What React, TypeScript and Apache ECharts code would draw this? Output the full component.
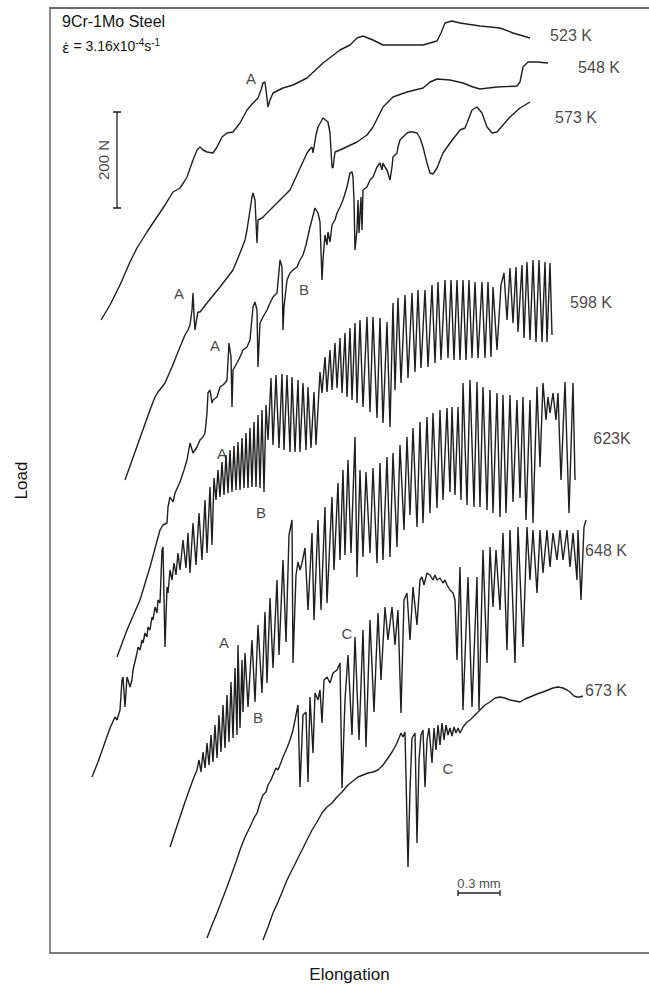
import React, { useEffect, useRef } from "react";
import * as echarts from "echarts";

type Pt = [number, number];

// Load–elongation traces, elongation and load in plot units
// (0.3 mm = 42 units of elongation, 200 N = 96 units of load).
const curve523: Pt[] = [
  [101, 680], [110, 695], [120, 715], [130, 738], [137, 752], [147, 768], [157, 783], [165, 795],
  [173, 808], [180, 812], [184, 818], [187, 823], [193, 840], [197, 850], [200, 853], [203, 850],
  [207, 848], [213, 847], [217, 853], [222, 863], [227, 867], [233, 868], [240, 877], [247, 890],
  [253, 897], [258, 902], [261, 910], [263, 917], [265, 918], [266, 910], [268, 893], [270, 900],
  [273, 907], [283, 912], [293, 915], [307, 922], [323, 937], [340, 950], [350, 955], [357, 962],
  [363, 964], [373, 960], [383, 955], [400, 955], [423, 955], [430, 957], [437, 959], [441, 967],
  [445, 977], [452, 979], [460, 977], [480, 974], [500, 972], [513, 967], [530, 962],
];

const curve548: Pt[] = [
  [125, 520], [135, 548], [145, 576], [150, 590], [155, 603], [158, 608], [162, 613], [165, 617],
  [172, 633], [180, 653], [185, 665], [188, 670], [190, 675], [192, 690], [193, 707], [194, 685],
  [195, 670], [197, 683], [198, 688], [200, 688], [207, 697], [220, 713], [233, 730], [240, 747],
  [245, 760], [247, 770], [252, 803], [253, 807], [255, 800], [257, 757], [258, 780], [262, 782],
  [273, 793], [290, 810], [307, 847], [310, 851], [312, 853], [313, 847], [316, 865], [318, 873],
  [323, 882], [328, 878], [330, 867], [332, 833], [333, 832], [335, 848], [340, 850], [357, 858],
  [367, 865], [373, 873], [383, 893], [393, 903], [407, 908], [423, 912], [430, 918], [437, 921],
  [450, 920], [463, 917], [473, 913], [480, 911], [497, 913], [517, 914], [520, 918], [523, 933],
  [528, 938], [537, 938], [548, 937],
];

const curve573: Pt[] = [
  [117, 343], [127, 370], [140, 400], [150, 433], [160, 470], [163, 475], [167, 477], [168, 493],
  [170, 503], [173, 498], [175, 507], [180, 518], [184, 530], [187, 540], [190, 557], [193, 547],
  [197, 553], [200, 560], [203, 563], [205, 567], [207, 587], [208, 607], [210, 610], [212, 597],
  [213, 600], [217, 603], [220, 613], [223, 615], [225, 617], [227, 620], [229, 657], [231, 643],
  [232, 593], [233, 630], [237, 637], [240, 643], [243, 650], [247, 653], [250, 660], [253, 693],
  [255, 698], [257, 690], [258, 633], [260, 677], [263, 683], [267, 690], [270, 697], [273, 703],
  [277, 707], [280, 740], [282, 733], [283, 670], [284, 693], [287, 720], [290, 727], [293, 730],
  [297, 733], [300, 740], [303, 745], [306, 755], [310, 773], [315, 792], [318, 787], [320, 778],
  [322, 720], [323, 740], [325, 765], [327, 755], [328, 768], [330, 758], [332, 775], [335, 780],
  [337, 787], [340, 793], [343, 800], [347, 813], [350, 827], [352, 828], [353, 823], [354, 800],
  [355, 750], [357, 770], [358, 800], [359, 767], [361, 803], [362, 770], [363, 810], [367, 813],
  [370, 820], [373, 823], [377, 833], [380, 837], [382, 830], [383, 837], [385, 833], [387, 830],
  [390, 820], [392, 833], [393, 843], [397, 847], [398, 853], [400, 860], [403, 863], [407, 867],
  [410, 868], [413, 868], [417, 867], [420, 862], [423, 853], [427, 837], [430, 827], [433, 826],
  [437, 832], [443, 847], [450, 857], [460, 870], [465, 872], [467, 877], [472, 890], [477, 893],
  [482, 887], [487, 873], [492, 867], [497, 868], [510, 883], [520, 892], [530, 898],
];

const curve598: Pt[] = [
  [92, 223], [98, 238], [104, 255], [110, 272], [115, 283], [117, 280], [120, 290], [122, 320],
  [123, 323], [125, 293], [127, 323], [128, 320], [130, 313], [132, 320], [133, 330], [137, 347],
  [138, 353], [140, 350], [142, 360], [143, 357], [145, 367], [147, 363], [148, 373], [150, 370],
  [152, 383], [153, 380], [155, 393], [157, 387], [158, 400], [160, 397], [162, 450], [163, 453],
  [165, 353], [167, 413], [168, 407], [170, 430], [172, 420], [174, 437], [176, 425], [178, 447],
  [180, 430], [183, 460], [186, 432], [188, 467], [190, 427], [193, 477], [196, 435], [199, 487],
  [202, 440], [205, 500], [207, 447], [210, 513], [212, 455], [214, 522], [216, 500], [218, 530],
  [220, 503], [222, 538], [224, 505], [226, 545], [228, 507], [230, 550], [232, 508], [234, 554],
  [236, 510], [238, 558], [240, 510], [242, 562], [244, 512], [246, 567], [248, 512], [250, 572],
  [252, 513], [254, 578], [256, 513], [258, 585], [260, 512], [262, 590], [264, 508], [266, 595],
  [268, 560], [271, 622], [273, 555], [276, 625], [279, 552], [282, 626], [284, 550], [287, 625],
  [290, 548], [292, 623], [295, 548], [298, 620], [300, 548], [303, 617], [306, 550], [308, 613],
  [311, 552], [314, 608], [316, 555], [320, 628], [322, 607], [325, 643], [327, 608], [330, 650],
  [332, 610], [335, 657], [337, 612], [340, 662], [342, 607], [345, 667], [347, 603], [350, 672],
  [352, 600], [355, 677], [357, 597], [360, 680], [363, 593], [367, 683], [370, 588], [373, 683],
  [377, 582], [380, 682], [383, 577], [387, 678], [390, 573], [393, 697], [395, 610], [398, 702],
  [401, 617], [405, 705], [408, 622], [412, 707], [415, 628], [418, 710], [421, 632], [425, 710],
  [428, 633], [432, 715], [435, 637], [438, 718], [441, 640], [445, 720], [448, 642], [451, 720],
  [454, 640], [457, 720], [460, 640], [463, 720], [466, 640], [469, 720], [472, 642], [475, 718],
  [478, 642], [482, 718], [485, 642], [488, 718], [491, 643], [493, 713], [497, 650], [501, 715],
  [504, 727], [507, 680], [510, 732], [513, 677], [516, 733], [518, 668], [522, 735], [524, 662],
  [527, 738], [530, 660], [533, 740], [536, 658], [539, 740], [542, 658], [545, 738], [547, 658],
  [550, 737], [552, 665],
];

const curve623: Pt[] = [
  [170, 153], [175, 168], [180, 183], [185, 198], [190, 212], [194, 223], [197, 230], [199, 240],
  [201, 228], [203, 248], [205, 232], [207, 257], [209, 235], [211, 265], [213, 238], [215, 275],
  [217, 242], [219, 285], [221, 248], [223, 295], [225, 252], [227, 305], [229, 258], [231, 318],
  [233, 262], [235, 332], [237, 265], [238, 355], [240, 272], [242, 340], [243, 288], [245, 347],
  [248, 293], [252, 360], [255, 298], [258, 375], [262, 307], [265, 388], [267, 317], [270, 402],
  [273, 332], [277, 420], [279, 345], [283, 440], [286, 358], [289, 465], [292, 480], [293, 337],
  [296, 425], [298, 438], [300, 430], [302, 437], [305, 452], [308, 390], [312, 467], [314, 380],
  [318, 480], [321, 390], [325, 493], [327, 397], [332, 503], [334, 430], [338, 517], [340, 440],
  [343, 530], [345, 445], [348, 540], [351, 447], [355, 563], [357, 423], [360, 530], [363, 443],
  [366, 528], [370, 447], [373, 532], [377, 437], [380, 537], [383, 440], [387, 543], [390, 443],
  [393, 547], [397, 453], [400, 555], [404, 470], [407, 563], [410, 485], [413, 572], [417, 473],
  [420, 578], [423, 477], [427, 583], [430, 487], [433, 587], [437, 492], [440, 590], [443, 500],
  [447, 592], [450, 508], [452, 593], [455, 505], [458, 593], [461, 500], [463, 617], [467, 495],
  [470, 620], [474, 493], [477, 618], [480, 493], [483, 613], [487, 490], [490, 610], [493, 487],
  [497, 607], [500, 483], [503, 605], [506, 487], [510, 605], [513, 498], [517, 600], [520, 502],
  [523, 603], [526, 480], [530, 600], [533, 477], [537, 613], [540, 533], [543, 617], [546, 580],
  [548, 603], [550, 587], [553, 607], [556, 580], [558, 607], [561, 520], [565, 618], [569, 487],
  [573, 617], [575, 520],
];

const curve648: Pt[] = [
  [207, 62], [212, 75], [217, 87], [222, 100], [227, 113], [232, 127], [236, 138], [240, 150],
  [245, 163], [250, 173], [254, 182], [257, 187], [260, 197], [263, 205], [266, 208], [268, 215],
  [271, 220], [273, 225], [276, 232], [278, 230], [280, 235], [283, 243], [287, 252], [290, 260],
  [293, 270], [295, 280], [298, 295], [300, 213], [303, 285], [306, 288], [308, 218], [310, 303],
  [313, 247], [315, 307], [318, 300], [320, 310], [322, 277], [324, 320], [327, 323], [330, 317],
  [333, 327], [337, 330], [340, 337], [342, 212], [345, 300], [348, 345], [352, 265], [355, 363],
  [359, 260], [363, 370], [366, 253], [370, 380], [374, 288], [378, 387], [381, 320], [385, 393],
  [388, 360], [392, 393], [395, 355], [398, 390], [401, 287], [404, 400], [407, 407], [410, 360],
  [413, 413], [417, 375], [420, 420], [422, 423], [424, 415], [427, 427], [430, 425], [433, 420],
  [435, 425], [437, 420], [440, 422], [443, 417], [445, 420], [447, 415], [450, 410], [453, 407],
  [455, 400], [457, 340], [460, 433], [463, 290], [468, 423], [472, 293], [477, 423], [479, 290],
  [483, 450], [487, 337], [490, 453], [493, 393], [496, 450], [500, 390], [503, 467], [507, 350],
  [510, 470], [515, 337], [518, 473], [523, 353], [527, 473], [530, 420], [533, 470], [537, 407],
  [540, 470], [543, 427], [547, 470], [550, 433], [553, 467], [557, 440], [560, 470], [563, 440],
  [567, 470], [570, 433], [573, 467], [577, 420], [578, 470], [581, 400], [584, 473], [586, 480],
];

const curve673: Pt[] = [
  [263, 60], [268, 73], [273, 87], [278, 98], [283, 110], [287, 120], [291, 128], [297, 140],
  [302, 150], [307, 160], [312, 170], [317, 178], [322, 187], [327, 193], [332, 197], [337, 203],
  [342, 208], [348, 215], [353, 219], [358, 223], [363, 225], [368, 227], [373, 228], [378, 230],
  [383, 235], [388, 242], [392, 248], [396, 255], [399, 262], [401, 267], [403, 263], [405, 268],
  [408, 133], [410, 210], [412, 262], [415, 267], [417, 157], [419, 240], [421, 265], [423, 270],
  [425, 213], [427, 260], [429, 272], [432, 237], [434, 272], [436, 250], [438, 275], [440, 255],
  [442, 277], [444, 260], [446, 275], [448, 265], [450, 272], [452, 264], [454, 273], [456, 267],
  [458, 272], [460, 267], [463, 273], [467, 278], [470, 280], [475, 285], [480, 290], [485, 295],
  [490, 298], [495, 302], [500, 303], [505, 302], [510, 300], [515, 299], [520, 298], [525, 301],
  [530, 303], [537, 306], [543, 308], [548, 310], [553, 312], [558, 313], [563, 312], [567, 310],
  [570, 308], [574, 304], [577, 303], [580, 303], [583, 304],
];

const temperatures = ["523 K", "548 K", "573 K", "598 K", "623K", "648 K", "673 K"];
const curves: Pt[][] = [curve523, curve548, curve573, curve598, curve623, curve648, curve673];

// Where each temperature tag sits, in plot units.
const tagAnchors: Pt[] = [
  [571, 965], [599, 933], [576, 883], [591, 698], [612, 562], [606, 450], [606, 310],
];

// Serration-type markers A, B, C placed beside the traces.
const markerText = ["A", "A", "A", "B", "A", "B", "A", "B", "C", "C"];
const markerAnchors: Pt[] = [
  [251, 922], [179, 707], [215, 655], [304, 711], [222, 547], [261, 488], [224, 358], [258, 283],
  [347, 367], [448, 232],
];

// Scale bars in plot units.
const LOAD_BAR = { x: 117, from: 792, to: 888, label: "200 N" };
const ELONG_BAR = { y: 107, from: 458, to: 500, label: "0.3 mm" };

const X_RANGE: [number, number] = [50, 649];
const Y_RANGE: [number, number] = [47, 992];

const INK = "#1f1f1f";
const TEXT = "#141414";
const FONT = "'Liberation Sans', Arial, Helvetica, sans-serif";

export default function App() {
  const ref = useRef<HTMLDivElement | null>(null);

  useEffect(() => {
    if (!ref.current) return;
    const chart = echarts.init(ref.current, undefined, { renderer: "svg" });

    const traceSeries = curves.map((data, i) => ({
      type: "line" as const,
      name: temperatures[i],
      data,
      showSymbol: false,
      symbol: "none",
      silent: true,
      lineStyle: { color: INK, width: 1.4 },
      z: 3,
    }));

    const seg = (a: Pt, b: Pt) => ({
      type: "line" as const,
      data: [a, b],
      showSymbol: false,
      symbol: "none",
      silent: true,
      lineStyle: { color: INK, width: 1.3 },
      z: 4,
    });

    const barSeries = [
      seg([LOAD_BAR.x, LOAD_BAR.from], [LOAD_BAR.x, LOAD_BAR.to]),
      seg([LOAD_BAR.x - 4, LOAD_BAR.from], [LOAD_BAR.x + 4, LOAD_BAR.from]),
      seg([LOAD_BAR.x - 4, LOAD_BAR.to], [LOAD_BAR.x + 4, LOAD_BAR.to]),
      seg([ELONG_BAR.from, ELONG_BAR.y], [ELONG_BAR.to, ELONG_BAR.y]),
      seg([ELONG_BAR.from, ELONG_BAR.y - 3], [ELONG_BAR.from, ELONG_BAR.y + 3]),
      seg([ELONG_BAR.to, ELONG_BAR.y - 3], [ELONG_BAR.to, ELONG_BAR.y + 3]),
    ];

    const plainLabel = (fontSize: number, extra: Record<string, unknown> = {}) => ({
      show: true,
      position: [0, 0],
      align: "center",
      verticalAlign: "middle",
      formatter: "{b}",
      color: TEXT,
      fontFamily: FONT,
      fontSize,
      textBorderWidth: 0,
      textBorderColor: "transparent",
      ...extra,
    });

    const textItems: any[] = [
      ...temperatures.map((t, i) => ({ name: t, value: tagAnchors[i], label: plainLabel(16) })),
      ...markerText.map((t, i) => ({ name: t, value: markerAnchors[i], label: plainLabel(15) })),
      {
        name: LOAD_BAR.label,
        value: [LOAD_BAR.x - 14, (LOAD_BAR.from + LOAD_BAR.to) / 2],
        label: plainLabel(15, { rotate: 90 }),
      },
      {
        name: ELONG_BAR.label,
        value: [(ELONG_BAR.from + ELONG_BAR.to) / 2, ELONG_BAR.y + 10],
        label: plainLabel(13),
      },
    ];

    const textSeries = {
      type: "scatter" as const,
      data: textItems,
      symbolSize: 0,
      silent: true,
      z: 5,
      itemStyle: { color: "transparent" },
      label: plainLabel(15),
    };

    chart.setOption({
      animation: false,
      backgroundColor: "#ffffff",
      grid: { left: 50, right: 0, top: 8, bottom: 36, containLabel: false },
      xAxis: [
        {
          type: "value",
          min: X_RANGE[0],
          max: X_RANGE[1],
          name: "Elongation",
          nameLocation: "middle",
          nameGap: 13,
          nameTextStyle: { fontSize: 17, color: TEXT, fontFamily: FONT, verticalAlign: "top" },
          axisLine: { show: true, lineStyle: { color: "#7a7a7a", width: 2 } },
          axisTick: { show: false },
          axisLabel: { show: false },
          splitLine: { show: false },
        },
        {
          type: "value",
          position: "top",
          min: X_RANGE[0],
          max: X_RANGE[1],
          axisLine: { show: true, lineStyle: { color: "#6a6a6a", width: 2 } },
          axisTick: { show: false },
          axisLabel: { show: false },
          splitLine: { show: false },
        },
      ],
      yAxis: {
        type: "value",
        min: Y_RANGE[0],
        max: Y_RANGE[1],
        name: "Load",
        nameLocation: "middle",
        nameGap: 20,
        nameRotate: 90,
        nameTextStyle: { fontSize: 17, color: TEXT, fontFamily: FONT },
        axisLine: { show: true, lineStyle: { color: "#8a8a8a", width: 2 } },
        axisTick: { show: false },
        axisLabel: { show: false },
        splitLine: { show: false },
      },
      graphic: [
        {
          type: "text",
          left: 62,
          top: 13,
          style: { text: "9Cr-1Mo Steel", fontSize: 16, fill: TEXT, fontFamily: FONT },
        },
        {
          type: "text",
          left: 62,
          top: 37,
          style: {
            text: "{e|ε̇} = 3.16x10{s|-4}s{s|-1}",
            fontSize: 14,
            fill: TEXT,
            fontFamily: FONT,
            rich: {
              e: { fontSize: 14, fontFamily: "'DejaVu Sans', sans-serif", fill: TEXT, lineHeight: 18, verticalAlign: "bottom" },
              s: { fontSize: 10, fontFamily: FONT, fill: TEXT, lineHeight: 18, verticalAlign: "top" },
            },
          },
        },
      ],
      series: [...traceSeries, ...barSeries, textSeries],
    });

    return () => chart.dispose();
  }, []);

  return (
    <div
      ref={ref}
      style={{ position: "fixed", left: 0, top: 0, width: 649, height: 989, background: "#fff" }}
    />
  );
}
